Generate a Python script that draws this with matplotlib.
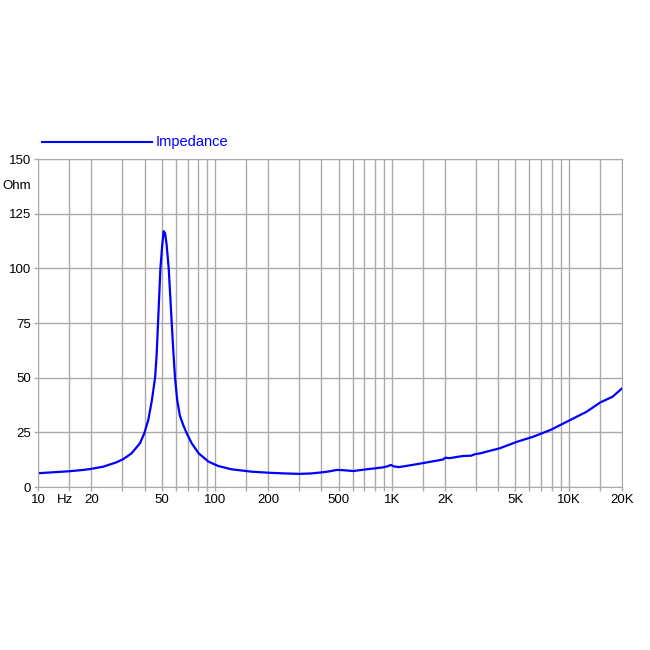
import matplotlib
matplotlib.use('Agg')
import matplotlib.pyplot as plt
from matplotlib.lines import Line2D
from matplotlib.ticker import FixedLocator, NullFormatter

plt.rcParams['font.family'] = ['Liberation Sans', 'DejaVu Sans']

# impedance curve
freq = [10, 12, 15, 17.5, 19.7, 23.4, 27.8, 30.4, 33.8, 37.7, 39.9, 42.0,
        44.0, 45.9, 46.8, 47.7, 49.2, 50.3, 51.3, 52.3, 53.3, 54.8, 57.0,
        58.2, 59.5, 61.2, 63.4, 66.3, 69.1, 73.9, 80.9, 92.0, 104.5, 124.1,
        161.5, 204, 250, 300, 350, 392, 440, 466, 490, 530, 606, 719, 800,
        894, 950, 985, 1030, 1100, 1375, 1782, 1950, 2006, 2120, 2400, 2537,
        2800, 2950, 3160, 4070, 5110, 6300, 7900, 10000, 12600, 15100, 17700,
        20000]
imp = [6.3, 6.7, 7.2, 7.7, 8.2, 9.3, 11.3, 12.8, 15.4, 20.0, 24.6, 30.6,
       39.5, 50, 60, 75, 100, 110, 117, 116, 111, 100, 75,
       62, 50, 39.8, 32.6, 28.2, 24.8, 20, 15.4, 11.6, 9.6, 8.1,
       7.0, 6.5, 6.2, 6.0, 6.2, 6.6, 7.1, 7.5, 7.8, 7.7, 7.3, 8.1, 8.5,
       9.0, 9.5, 10.1, 9.4, 9.1, 10.4, 12.0, 12.6, 13.4, 13.2, 13.9, 14.2,
       14.3, 15.0, 15.4, 17.7, 20.7, 23.0, 26.1, 30.3, 34.4, 38.7, 41.3,
       45.1]

major_ticks = [10, 20, 50, 100, 200, 500, 1000, 2000, 5000, 10000, 20000]
major_labels = ['10', '20', '50', '100', '200', '500', '1K', '2K', '5K', '10K', '20K']
minor_ticks = [15, 30, 40, 60, 70, 80, 90, 150, 300, 400, 600, 700, 800, 900,
               1500, 3000, 4000, 6000, 7000, 8000, 9000, 15000]
y_ticks = [0, 25, 50, 75, 100, 125, 150]

fig = plt.figure(figsize=(6.5, 6.5), dpi=100)
ax = fig.add_axes([38 / 650, 1 - 487 / 650, 584 / 650, 328 / 650])

ax.plot(freq, imp, color='#0000ff', lw=1.6, solid_joinstyle='round')

ax.set_xscale('log')
ax.set_xlim(10, 20000)
ax.set_ylim(0, 150)
ax.xaxis.set_major_locator(FixedLocator(major_ticks))
ax.set_xticklabels(major_labels)
ax.xaxis.set_minor_locator(FixedLocator(minor_ticks))
ax.xaxis.set_minor_formatter(NullFormatter())
ax.set_yticks(y_ticks)

grid_col = '#aaaaaa'
ax.grid(True, which='both', color=grid_col, lw=1)
for s in ax.spines.values():
    s.set_color(grid_col)
ax.tick_params(which='both', length=3, width=1, color=grid_col,
               labelsize=9.5, pad=2)

ax.text(-0.012, 137.5, 'Ohm', transform=ax.get_yaxis_transform(),
        ha='right', va='center', fontsize=9.5)
ax.text(14.2, -3.3, 'Hz', ha='center', va='top', fontsize=9.5)

fig.add_artist(Line2D([42 / 650, 152 / 650], [1 - 142 / 650] * 2,
                      color='#0000ff', lw=1.5))
fig.text(156 / 650, 1 - 142 / 650, 'Impedance', color='#0000ff',
         fontsize=10.5, va='center', ha='left')

fig.savefig('out.png', dpi=100)
